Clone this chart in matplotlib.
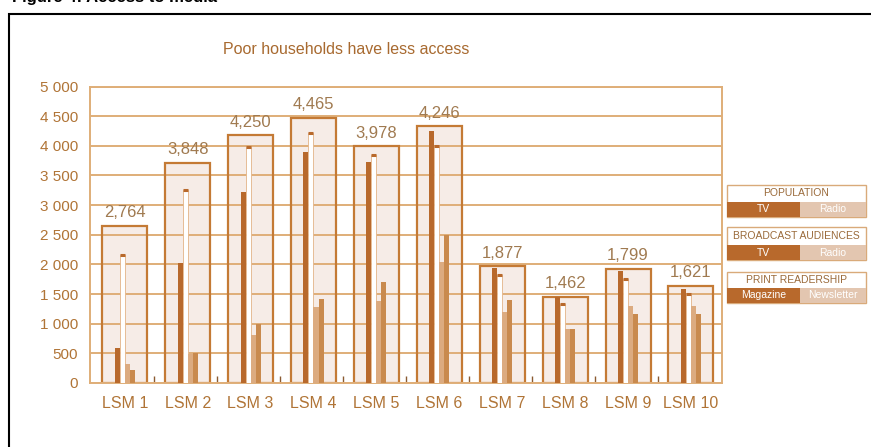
import matplotlib
matplotlib.use("Agg")
import matplotlib.pyplot as plt
from matplotlib.patches import Rectangle
from matplotlib.ticker import FuncFormatter, FixedLocator
import numpy as np

plt.rcParams['font.family'] = ['Liberation Sans', 'DejaVu Sans']

# ---------------- data ----------------
categories = ["LSM 1", "LSM 2", "LSM 3", "LSM 4", "LSM 5",
              "LSM 6", "LSM 7", "LSM 8", "LSM 9", "LSM 10"]
population_box = [2650, 3710, 4175, 4475, 3995, 4330, 1970, 1455, 1930, 1635]
population_label = ["2,764", "3,848", "4,250", "4,465", "3,978",
                    "4,246", "1,877", "1,462", "1,799", "1,621"]
tv = [594, 2025, 3220, 3894, 3726, 4248, 1931, 1453, 1886, 1582]
radio = [2155, 3260, 3978, 4214, 3838, 3995, 1818, 1330, 1746, 1498]
magazine = [320, 490, 808, 1285, 1386, 2042, 1200, 904, 1301, 1301]
newsletter = [219, 500, 990, 1409, 1705, 2492, 1397, 904, 1156, 1156]
y_ticks = [0, 500, 1000, 1500, 2000, 2500, 3000, 3500, 4000, 4500, 5000]

title = "Poor households have less access"
fig_caption = "Figure 4: Access to media"
legend_groups = ["POPULATION", "BROADCAST AUDIENCES", "PRINT READERSHIP"]
legend_items = [("TV", "Radio"), ("TV", "Radio"), ("Magazine", "Newsletter")]

# ---------------- style ----------------
C_DARK = "#b8692c"
C_MED = "#c98a4e"
C_LIGHT = "#dcab80"
C_BOX_EDGE = "#c47a35"
C_BOX_FILL = "#f6ece7"
C_GRID = "#dfae78"
C_TEXT = "#b07436"
C_VAL = "#a07a50"

W, H = 871, 447
fig = plt.figure(figsize=(W / 100, H / 100), dpi=100)

ax = fig.add_axes([90 / W, (H - 383) / H, (722 - 90) / W, (383 - 86.5) / H])
x = np.arange(len(categories))

box_w = 0.715
bar_w = 0.08

# outer population boxes: fill below grid, edge above
ax.bar(x, population_box, width=box_w, color=C_BOX_FILL, zorder=1, linewidth=0)
ax.bar(x, population_box, width=box_w, facecolor="none", edgecolor=C_BOX_EDGE,
       linewidth=1.6, zorder=2)

ax.bar(x - 1.5 * bar_w, tv, width=bar_w, color=C_DARK, linewidth=0, zorder=3)
ax.bar(x - 0.5 * bar_w, radio, width=bar_w, facecolor="white", edgecolor="#e3b488",
       linewidth=0.6, zorder=3)
ax.hlines(radio, x - bar_w, x, colors=C_DARK, linewidth=2.2, zorder=4)
ax.bar(x + 0.5 * bar_w, magazine, width=bar_w, color=C_LIGHT, linewidth=0, zorder=3)
ax.bar(x + 1.5 * bar_w, newsletter, width=bar_w, color=C_MED, linewidth=0, zorder=3)

for xi, h, lab in zip(x, population_box, population_label):
    ax.annotate(lab, (xi, h), xytext=(0, 4), textcoords="offset points",
                ha="center", va="bottom", fontsize=12, color=C_VAL, zorder=5)

ax.set_xlim(-0.553, 9.494)
ax.set_ylim(0, 5000)
ax.set_yticks(y_ticks)
ax.yaxis.set_major_formatter(FuncFormatter(lambda v, p: f"{int(v):,}".replace(",", " ")))
ax.set_xticks(x)
ax.set_xticklabels(categories)
ax.xaxis.set_minor_locator(FixedLocator(x[:-1] + 0.47))
ax.tick_params(axis="x", which="major", length=0, pad=9, labelsize=11.5, labelcolor=C_TEXT)
ax.tick_params(axis="x", which="minor", length=5, direction="in", color="#8a5a30", width=1)
ax.tick_params(axis="y", length=0, pad=8.5, labelsize=11, labelcolor=C_TEXT)

ax.set_axisbelow("line")
ax.yaxis.grid(True, color=C_GRID, linewidth=1.4)
ax.xaxis.grid(False)
for s in ax.spines.values():
    s.set_color(C_GRID)
    s.set_linewidth(1.4)

# title
fig.text(346 / W, 1 - 50 / H, title, ha="center", va="center", fontsize=11.5, color="#a86a30")

# caption, cut off at the top edge as in the source image
fig.text(12 / W, 1 - 2 / H, fig_caption, ha="left", va="baseline", fontsize=12,
         fontweight="bold", color="black")

# outer black frame
fig.patches.append(Rectangle((9 / W, -0.1), 2.0, 1.1 - 14 / H, transform=fig.transFigure,
                             fill=False, edgecolor="black", linewidth=1.5))

# legend panels
panels = [(185, 217, 193, 202), (227, 260, 236, 245), (272, 303, 280, 288)]
x0, xm, x1 = 727, 800, 866
for (top, bot, ty, rtop), grp, (a, b) in zip(panels, legend_groups, legend_items):
    fig.patches.append(Rectangle((x0 / W, 1 - bot / H), (x1 - x0) / W, (bot - top) / H,
                                 transform=fig.transFigure, facecolor="white",
                                 edgecolor="#d9aa7a", linewidth=1.0))
    fig.patches.append(Rectangle((x0 / W, 1 - bot / H), (xm - x0) / W, (bot - rtop) / H,
                                 transform=fig.transFigure, facecolor=C_DARK,
                                 edgecolor="none"))
    fig.patches.append(Rectangle((xm / W, 1 - bot / H), (x1 - xm) / W, (bot - rtop) / H,
                                 transform=fig.transFigure, facecolor="#e3c6b0",
                                 edgecolor="none"))
    fig.text((x0 + x1) / 2 / W, 1 - ty / H, grp, ha="center", va="center",
             fontsize=7.5, color="#9a6a3a")
    ry = 1 - (rtop + bot) / 2 / H
    fig.text((x0 + xm) / 2 / W, ry, a, ha="center", va="center", fontsize=7.5, color="white")
    fig.text((xm + x1) / 2 / W, ry, b, ha="center", va="center", fontsize=7.5, color="white")

fig.savefig("out.png", dpi=100)
